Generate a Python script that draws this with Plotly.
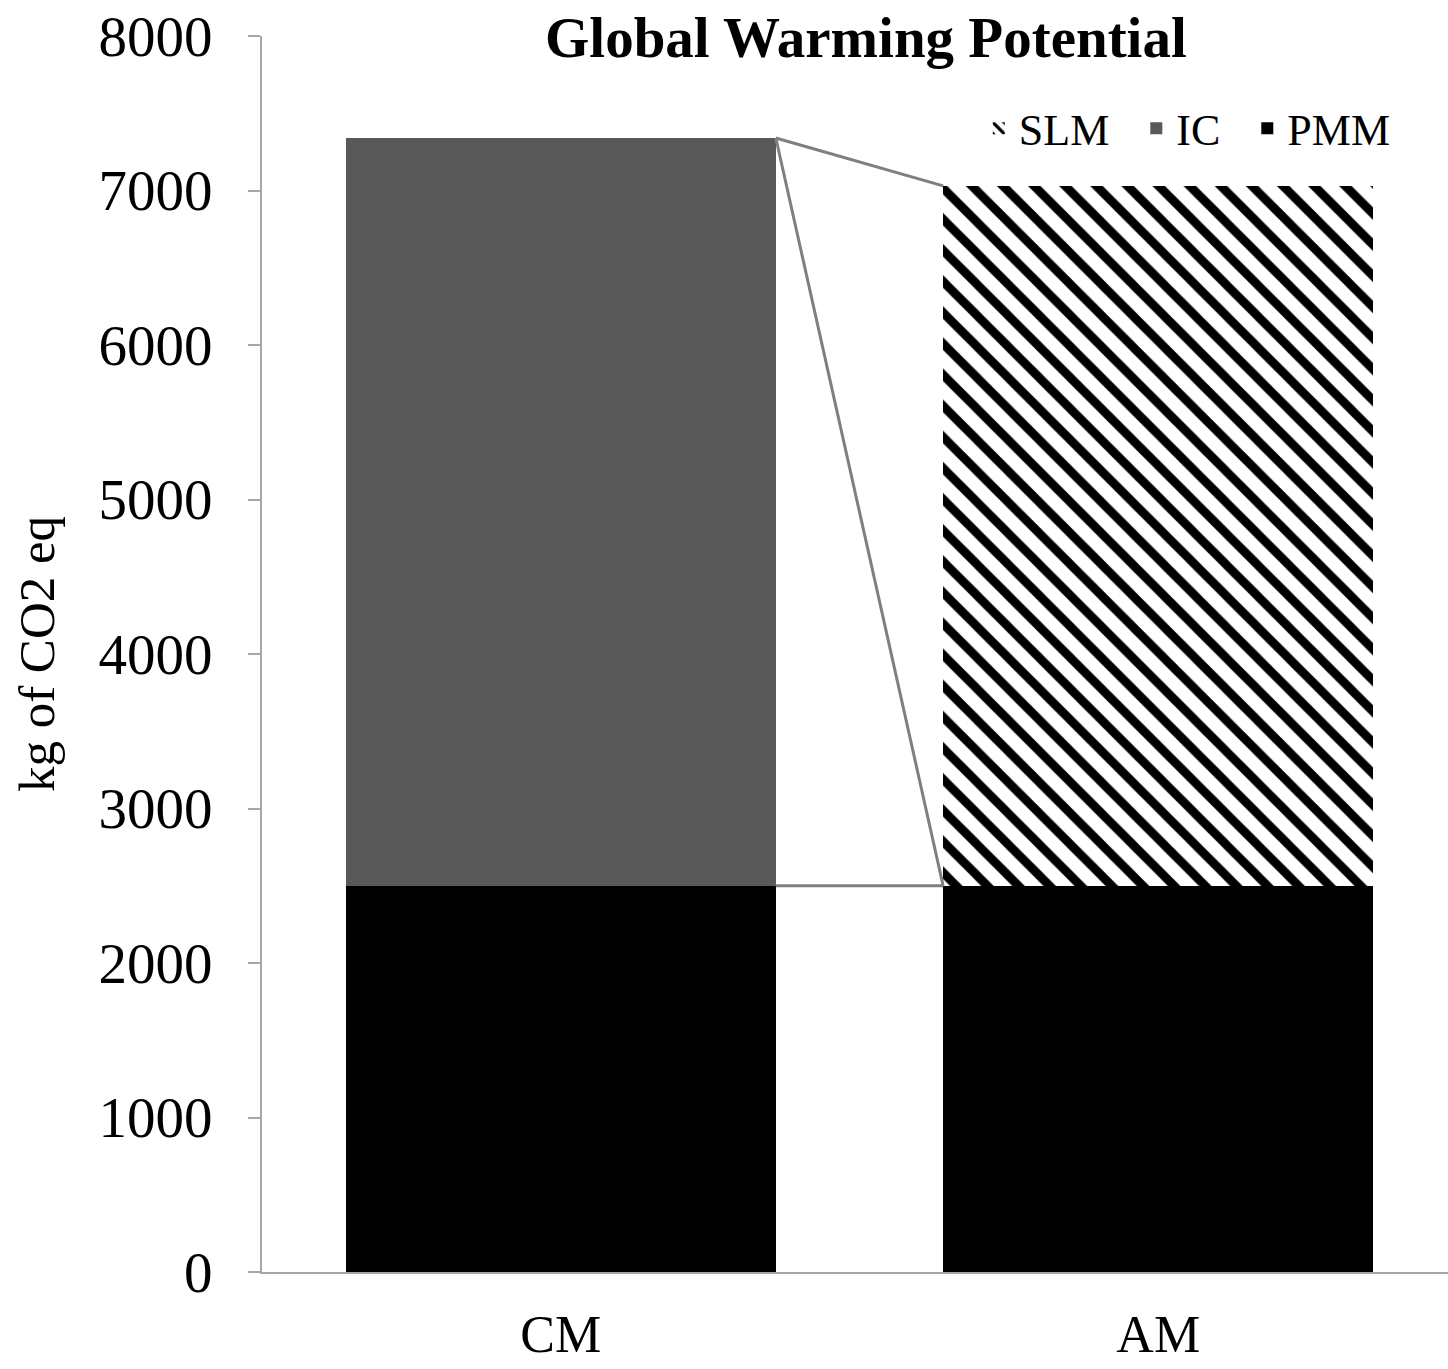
import plotly.graph_objects as go

categories = ["CM", "AM"]
pmm = [2500, 2500]
ic = [4840, 0]
slm = [0, 4530]
series_names = ["PMM", "IC", "SLM"]

x_pos = [0, 1]
bar_width = 0.72
nb = "\u00a0\u00a0"

fig = go.Figure()
fig.add_trace(go.Bar(name=series_names[0], x=x_pos, y=pmm, width=bar_width,
                     marker=dict(color="#000000", line=dict(width=0))))
fig.add_trace(go.Bar(name=series_names[1] + nb, x=x_pos, y=ic, width=bar_width,
                     marker=dict(color="#595959", line=dict(width=0))))
fig.add_trace(go.Bar(name=series_names[2] + nb, x=x_pos, y=slm, width=bar_width,
                     marker=dict(color="#ffffff", line=dict(width=0),
                                 pattern=dict(shape="\\", fgcolor="#000000", bgcolor="#ffffff",
                                              fgopacity=1, fillmode="replace",
                                              size=22, solidity=0.4))))

# Series lines connecting stacked tops between the two bars
cum_pmm = pmm
cum_ic = [p + i for p, i in zip(pmm, ic)]
cum_slm = [c + s for c, s in zip(cum_ic, slm)]
x_left = x_pos[0] + bar_width / 2
x_right = x_pos[1] - bar_width / 2
for cum in (cum_pmm, cum_ic, cum_slm):
    fig.add_trace(go.Scatter(x=[x_left, x_right], y=[cum[0], cum[1]], mode="lines",
                             line=dict(color="#7f7f7f", width=3),
                             showlegend=False, hoverinfo="skip"))

serif = "Liberation Serif, Times New Roman, serif"
fig.update_layout(
    barmode="stack",
    width=1448, height=1369,
    margin=dict(l=262, r=0, t=36, b=97, autoexpand=False),
    paper_bgcolor="white", plot_bgcolor="white",
    font=dict(family=serif, color="#000000"),
    title=dict(text="<b>Global Warming Potential</b>", x=0.598, xanchor="center",
               y=0.973, yanchor="middle", font=dict(size=57, family=serif)),
    legend=dict(orientation="h", traceorder="reversed", x=0.956, xanchor="right",
                y=0.925, yanchor="middle", font=dict(size=44, family=serif),
                bgcolor="rgba(0,0,0,0)"),
    showlegend=True,
)
fig.update_xaxes(range=[-0.5, 1.485], tickvals=x_pos, ticktext=categories,
                 showgrid=False, zeroline=False, showline=True, linecolor="#a6a6a6",
                 linewidth=2, ticks="", ticklabelstandoff=16, automargin=False,
                 tickfont=dict(size=52, family=serif))
fig.update_yaxes(range=[0, 8000], tickvals=list(range(0, 8001, 1000)),
                 showgrid=False, zeroline=False, showline=True, linecolor="#a6a6a6",
                 linewidth=2, ticks="outside", ticklen=12, tickcolor="#a6a6a6",
                 tickwidth=2, ticklabelstandoff=24, automargin=False,
                 tickfont=dict(size=57, family=serif),
                 title=dict(text="kg of CO2 eq", font=dict(size=51, family=serif), standoff=28))

fig.write_html("out.html")
